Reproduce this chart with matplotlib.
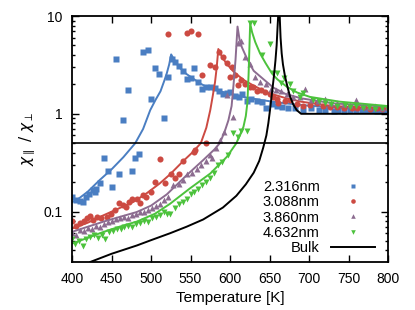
import matplotlib
matplotlib.use("Agg")
import matplotlib.pyplot as plt
from matplotlib.ticker import FixedLocator, FuncFormatter, LogLocator, NullFormatter

plt.rcParams['font.family'] = ['Liberation Sans', 'DejaVu Sans']
plt.rcParams['mathtext.fontset'] = 'dejavusans'

# ---- data ----
labels = ["2.316nm", "3.088nm", "3.860nm", "4.632nm"]
colors = ["#4A7EC2", "#CC4A42", "#8C6C90", "#4CC23C"]
markers = ["s", "o", "^", "v"]

# 2.316nm
blue_x = [400, 405, 410, 414, 418, 421, 426, 429, 431, 435, 440, 446, 450, 456, 460, 465, 471, 476, 480, 485,
          490, 496, 500, 505, 510, 516, 521, 526, 531, 536, 541, 545, 550, 555, 560, 565, 570, 576, 581, 586,
          591, 596, 600, 606, 611, 615, 621, 627, 634, 640, 646, 653, 659, 666, 674, 682, 693, 703, 712, 720,
          731, 737, 744, 752, 760, 767, 773, 780, 786, 792, 798]
blue_y = [0.142, 0.13, 0.128, 0.126, 0.14, 0.152, 0.167, 0.16, 0.17, 0.194, 0.35, 0.263, 0.18, 3.6, 0.24, 0.86, 1.76, 0.263, 0.35, 0.39,
          4.25, 4.49, 1.43, 2.92, 2.57, 0.91, 2.38, 3.66, 3.4, 3.05, 2.74, 2.25, 2.3, 2.94, 2.11, 1.8, 1.86, 1.9, 1.83, 1.7,
          1.6, 1.62, 1.66, 1.53, 1.48, 1.6, 1.36, 1.42, 1.36, 1.31, 1.16, 1.26, 1.2, 1.18, 1.16, 1.16, 1.09, 1.16, 1.1, 1.09,
          1.08, 1.1, 1.08, 1.1, 1.09, 1.1, 1.09, 1.1, 1.08, 1.1, 1.09]

# 3.088nm
red_x = [400, 405, 410, 415, 419, 423, 427, 432, 437, 444, 449, 454, 459, 465, 468, 472, 476, 482, 486, 490,
         494, 500, 505, 511, 518, 521, 525, 530, 535, 541, 545, 550, 554, 556, 560, 565, 570, 575, 581, 586,
         591, 596, 600, 602, 606, 610, 614, 619, 625, 629, 634, 639, 644, 651, 655, 659, 661, 669, 676, 685,
         693, 701, 710, 718, 726, 735, 744, 754, 761, 769, 777, 786, 793, 800]
red_y = [0.080, 0.072, 0.076, 0.08, 0.085, 0.09, 0.082, 0.088, 0.085, 0.088, 0.095, 0.105, 0.121, 0.116, 0.111, 0.125, 0.136, 0.136, 0.121, 0.147,
         0.142, 0.16, 0.201, 0.341, 0.194, 6.6, 0.245, 0.222, 0.245, 0.33, 6.7, 7.1, 0.41, 0.425, 6.6, 2.5, 0.5, 3.18, 2.98, 4.25,
         3.78, 3.28, 2.36, 2.98, 2.5, 1.98, 2.2, 2.0, 1.86, 1.9, 1.72, 1.75, 1.66, 1.61, 1.5, 1.42, 1.3, 1.35, 1.38, 1.25,
         1.2, 1.22, 1.28, 1.2, 1.18, 1.18, 1.15, 1.14, 1.15, 1.18, 1.12, 1.14, 1.13, 1.16]

# 3.860nm
purple_x = [400, 405, 410, 415, 420, 425, 430, 435, 440, 446, 451, 456, 461, 466, 471, 476, 481, 486, 491, 496,
            501, 506, 511, 516, 521, 528, 535, 541, 546, 552, 558, 563, 569, 575, 577, 582, 587, 592, 596, 604,
            610, 614, 619, 625, 632, 638, 646, 652, 658, 665, 672, 680, 688, 695, 703, 711, 720, 728, 736, 744,
            752, 760, 768, 776, 784, 792, 800]
purple_y = [0.06, 0.058, 0.065, 0.063, 0.068, 0.066, 0.072, 0.07, 0.075, 0.078, 0.08, 0.083, 0.085, 0.088, 0.087, 0.092, 0.095, 0.098, 0.1, 0.104,
            0.11, 0.115, 0.12, 0.13, 0.14, 0.186, 0.19, 0.21, 0.24, 0.25, 0.275, 0.3, 0.33, 0.38, 0.35, 0.45, 0.54, 0.65, 1.55, 0.93,
            5.3, 5.5, 3.83, 3.2, 2.39, 2.13, 2.0, 1.8, 1.75, 1.72, 1.6, 1.5, 1.48, 1.78, 1.4, 1.35, 1.42, 1.3, 1.28, 1.25,
            1.22, 1.38, 1.2, 1.18, 1.2, 1.15, 1.17]

# 4.632nm
green_x = [400, 404, 409, 414, 418, 423, 428, 433, 438, 442, 447, 452, 457, 462, 466, 471, 476, 481, 486, 491,
           496, 501, 506, 511, 516, 520, 524, 530, 535, 540, 545, 550, 555, 560, 565, 570, 575, 580, 585, 590,
           598, 604, 610, 614, 621, 625, 630, 640, 651, 655, 659, 665, 668, 676, 680, 689, 693, 705, 712, 720,
           728, 736, 745, 752, 760, 768, 776, 784, 792, 800]
green_y = [0.052, 0.047, 0.05, 0.044, 0.053, 0.055, 0.057, 0.054, 0.058, 0.052, 0.062, 0.064, 0.067, 0.066, 0.07, 0.072, 0.069, 0.075, 0.077, 0.08,
           0.079, 0.086, 0.088, 0.092, 0.098, 0.094, 0.095, 0.11, 0.12, 0.125, 0.135, 0.15, 0.16, 0.17, 0.185, 0.2, 0.22, 0.25, 0.3, 0.32,
           0.38, 0.63, 0.58, 0.66, 0.66, 8.4, 8.4, 4.0, 5.2, 2.6, 2.59, 2.05, 2.3, 2.0, 1.7, 1.5, 1.62, 1.38, 1.35, 1.3,
           1.25, 1.2, 1.22, 1.18, 1.2, 1.15, 1.18, 1.13, 1.15, 1.12]

# fitted curves
blue_line_x = [400, 406, 420, 435, 450, 465, 480, 490, 499, 506, 512, 517, 520, 523, 525.5, 530, 537, 545, 553, 562,
               570, 585, 600, 620, 640, 670, 700, 740, 800]
blue_line_y = [0.125, 0.131, 0.16, 0.21, 0.27, 0.36, 0.5, 0.7, 1.09, 1.4, 1.7, 2.2, 2.6, 3.2, 4.05, 3.5, 2.92, 2.55, 2.3, 2.05,
               1.89, 1.72, 1.6, 1.47, 1.38, 1.28, 1.21, 1.15, 1.1]
red_line_x = [400, 420, 435, 455, 478, 495, 511, 524, 541, 552, 563, 570, 575, 578, 581, 583, 585.2, 590, 596, 606,
              618, 630, 648, 670, 690, 730, 800]
red_line_y = [0.067, 0.077, 0.088, 0.104, 0.126, 0.155, 0.194, 0.24, 0.33, 0.4, 0.5, 0.72, 1.09, 1.5, 2.1, 2.9, 4.6, 3.8, 3.23, 2.62,
              2.2, 1.94, 1.64, 1.45, 1.33, 1.2, 1.135]
purple_line_x = [400, 420, 440, 460, 482, 500, 520, 545, 566, 580, 587, 593, 598, 602, 604.5, 607, 609.5, 612, 615, 620,
                 625, 630, 642, 655, 670, 690, 730, 800]
purple_line_y = [0.062, 0.07, 0.079, 0.088, 0.099, 0.115, 0.15, 0.235, 0.336, 0.43, 0.5, 0.65, 0.86, 1.2, 2.0, 3.6, 7.8, 5.8, 4.8, 3.9,
                 3.23, 2.75, 2.27, 1.85, 1.6, 1.44, 1.28, 1.18]
green_line_x = [400, 420, 440, 460, 482, 505, 524, 549, 575, 596, 608, 617, 620, 622, 623.5, 625.5, 628, 632, 638, 645,
                653, 660, 672, 685, 701, 739, 800]
green_line_y = [0.047, 0.054, 0.062, 0.07, 0.079, 0.095, 0.12, 0.172, 0.245, 0.363, 0.5, 0.736, 0.95, 1.3, 2.5, 8.4, 6.8, 5.4, 4.15, 3.3,
                2.59, 2.25, 1.89, 1.65, 1.49, 1.33, 1.2]
bulk_x = [423, 450, 482, 500, 524, 545, 566, 591, 608, 620, 630, 637, 642, 646, 648.5, 650.6, 653, 655.5, 657.5, 659,
          660.3, 661.5, 662.5, 664, 665.4, 667, 669.7, 673, 676, 680, 684.4, 690, 800]
bulk_y = [0.0305, 0.037, 0.045, 0.051, 0.06, 0.07, 0.083, 0.11, 0.145, 0.19, 0.25, 0.33, 0.45, 0.6, 0.8, 1.09, 1.6, 2.4, 3.5, 5.0,
          8.0, 12, 12, 6.0, 4.15, 3.2, 2.39, 1.85, 1.5, 1.25, 1.09, 1.0, 1.0]

points = [(blue_x, blue_y), (red_x, red_y), (purple_x, purple_y), (green_x, green_y)]
fits = [(blue_line_x, blue_line_y), (red_line_x, red_line_y),
        (purple_line_x, purple_line_y), (green_line_x, green_line_y)]

fig = plt.figure(figsize=(4.15, 3.1), dpi=100)
ax = fig.add_axes([0.1735, 0.1548, 0.7615, 0.7935])

for (px, py), (lx, ly), c, m, lab in zip(points, fits, colors, markers, labels):
    ax.plot(px, py, linestyle="none", marker=m, ms=4.4, color=c, mec="none", label=lab)
    ax.plot(lx, ly, color=c, lw=1.4)

ax.plot(bulk_x, bulk_y, color="black", lw=1.4, label="Bulk")
ax.axhline(0.5, color="black", lw=1.2)

ax.set_yscale("log")
ax.set_xlim(400, 800)
ax.set_ylim(0.0305, 10)
ax.set_xticks(range(400, 801, 50))
ax.yaxis.set_major_locator(FixedLocator([0.1, 1, 10]))
ax.yaxis.set_major_formatter(FuncFormatter(lambda v, p: "%g" % v))
ax.yaxis.set_minor_locator(LogLocator(base=10, subs=range(2, 10)))
ax.yaxis.set_minor_formatter(NullFormatter())
ax.tick_params(which="both", direction="in", top=True, right=True, labelsize=10, width=1)
ax.tick_params(which="major", length=5, pad=7)
ax.tick_params(which="minor", length=2.5)
for s in ax.spines.values():
    s.set_linewidth(1.3)

ax.set_xlabel("Temperature [K]", fontsize=11, labelpad=4)
ax.set_ylabel(r"$\chi_{\parallel}\ /\ \chi_{\perp}$", fontsize=11, labelpad=4)

leg = ax.legend(loc="lower right", bbox_to_anchor=(0.98, 0.0), frameon=False, fontsize=10.5,
                markerfirst=False, handlelength=3.0, handletextpad=0.8, labelspacing=0.1,
                markerscale=0.75, borderaxespad=0.05)
# right-align the label text against the handles
for col in leg._legend_handle_box.get_children():
    col.align = "right"

fig.savefig("out.png", dpi=100)
